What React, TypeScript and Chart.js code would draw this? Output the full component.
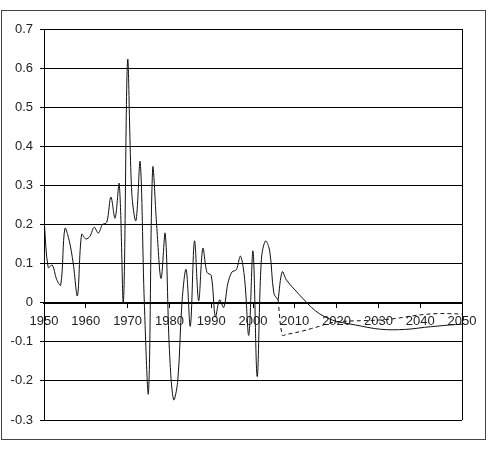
import React, { useEffect, useRef } from "react";
import { Chart, registerables } from "chart.js";

Chart.register(...registerables);

// Historic series (annual)
const histYears = [
  1950, 1951, 1952, 1953, 1954, 1955, 1956, 1957, 1958, 1959,
  1960, 1961, 1962, 1963, 1964, 1965, 1966, 1967, 1968, 1969,
  1970, 1971, 1972, 1973, 1974, 1975, 1976, 1977, 1978, 1979,
  1980, 1981, 1982, 1983, 1984, 1985, 1986, 1987, 1988, 1989,
  1990, 1991, 1992, 1993, 1994, 1995, 1996, 1997, 1998, 1999,
  2000, 2001, 2002, 2003, 2004, 2005, 2006,
];
const histValues = [
  0.215, 0.09, 0.096, 0.06, 0.045, 0.19, 0.16, 0.1, 0.018, 0.175,
  0.163, 0.17, 0.193, 0.178, 0.2, 0.205, 0.27, 0.216, 0.304, 0.0,
  0.62, 0.28, 0.21, 0.36, 0.0, -0.23, 0.344, 0.19, 0.062, 0.177,
  -0.12, -0.248, -0.2, 0.0, 0.085, -0.06, 0.158, 0.005, 0.139, 0.077,
  0.07, -0.036, 0.007, -0.012, 0.05, 0.079, 0.084, 0.119, 0.06, -0.083,
  0.132, -0.189, 0.11, 0.158, 0.132, 0.024, 0.007,
];

// Forecast (central, solid) and bound (dashed)
const fcYears = [
  2006, 2007, 2008, 2010, 2012, 2014, 2016, 2018, 2020, 2023,
  2026, 2029, 2032, 2035, 2038, 2041, 2044, 2047, 2050,
];
const fcSolid = [
  0.007, 0.079, 0.058, 0.033, 0.01, -0.012, -0.029, -0.04, -0.048, -0.054,
  -0.06, -0.066, -0.069, -0.069, -0.067, -0.063, -0.06, -0.057, -0.055,
];
const fcDashed = [
  0.007, -0.083, -0.081, -0.077, -0.072, -0.066, -0.06, -0.053, -0.049, -0.047,
  -0.046, -0.045, -0.043, -0.039, -0.034, -0.03, -0.028, -0.028, -0.029,
];

const xTicks = [1950, 1960, 1970, 1980, 1990, 2000, 2010, 2020, 2030, 2040, 2050];
const yTicks = [-0.3, -0.2, -0.1, 0, 0.1, 0.2, 0.3, 0.4, 0.5, 0.6, 0.7];
const yTickLabels = ["-0.3", "-0.2", "-0.1", "0", "0.1", "0.2", "0.3", "0.4", "0.5", "0.6", "0.7"];

const FONT = { family: "'Liberation Sans', Arial, sans-serif", size: 13 };

const framePlugin = {
  id: "frame",
  beforeDraw(chart: any) {
    const ctx = chart.ctx;
    ctx.save();
    ctx.fillStyle = "#ffffff";
    ctx.fillRect(0, 0, chart.width, chart.height);
    ctx.strokeStyle = "#444444";
    ctx.lineWidth = 1;
    ctx.strokeRect(1.5, 10.5, 484, 429);
    ctx.restore();
  },
  beforeDatasetsDraw(chart: any) {
    const ctx = chart.ctx;
    const a = chart.chartArea;
    ctx.save();
    ctx.strokeStyle = "#000000";
    ctx.lineWidth = 1;
    ctx.beginPath();
    const x = Math.round(a.right) + 0.5;
    ctx.moveTo(x, a.top);
    ctx.lineTo(x, a.bottom);
    ctx.stroke();
    ctx.restore();
  },
};

export default function App() {
  const ref = useRef<HTMLCanvasElement | null>(null);

  useEffect(() => {
    if (!ref.current) return;
    const hist = histYears.map((x, i) => ({ x, y: histValues[i] }));
    const solid = fcYears.map((x, i) => ({ x, y: fcSolid[i] }));
    const dashed = fcYears.map((x, i) => ({ x, y: fcDashed[i] }));
    const chart = new Chart(ref.current, {
      type: "line",
      data: {
        datasets: [
          { data: hist, borderColor: "#111", borderWidth: 1, pointRadius: 0, tension: 0.35, fill: false },
          { data: solid, borderColor: "#111", borderWidth: 1, pointRadius: 0, tension: 0.35, fill: false },
          { data: dashed, borderColor: "#111", borderWidth: 1, borderDash: [4, 3], pointRadius: 0, tension: 0.35, fill: false },
        ],
      },
      options: {
        responsive: false,
        animation: false,
        layout: { padding: { left: 0, top: 29, right: 30, bottom: 30 } },
        plugins: { legend: { display: false }, tooltip: { enabled: false } },
        scales: {
          x: {
            type: "linear",
            position: { y: 0 } as any,
            min: 1950,
            max: 2050,
            afterBuildTicks: (s: any) => {
              s.ticks = xTicks.map((v) => ({ value: v }));
            },
            ticks: {
              callback: (v: any) => String(v),
              font: FONT,
              color: "#222",
              padding: 7,
              maxRotation: 0,
              autoSkip: false,
            },
            grid: { drawOnChartArea: false, drawTicks: true, tickLength: 4, color: "#000" },
            border: { display: true, color: "#000", width: 2 },
          },
          y: {
            type: "linear",
            min: -0.3,
            max: 0.7,
            afterFit: (s: any) => {
              s.width = 44;
            },
            afterBuildTicks: (s: any) => {
              s.ticks = yTicks.map((v) => ({ value: v }));
            },
            ticks: {
              callback: (v: any) => {
                const i = yTicks.findIndex((t) => Math.abs(t - v) < 1e-6);
                return i >= 0 ? yTickLabels[i] : "";
              },
              font: FONT,
              color: "#222",
              padding: 7,
            },
            grid: { color: "#000", lineWidth: 1, tickLength: 4 },
            border: { display: true, color: "#000", width: 1 },
          },
        },
      },
      plugins: [framePlugin],
    });
    return () => chart.destroy();
  }, []);

  return (
    <div style={{ position: "absolute", left: 0, top: 0, width: 492, height: 450 }}>
      <canvas ref={ref} width={492} height={450} />
    </div>
  );
}
